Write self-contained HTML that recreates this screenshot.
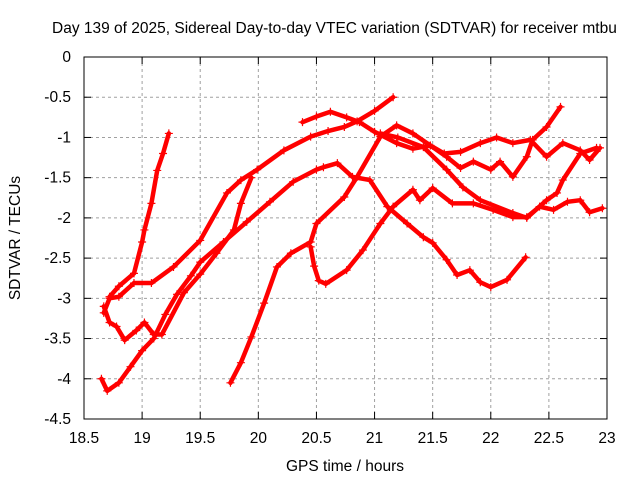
<!DOCTYPE html>
<html><head><meta charset="utf-8"><style>
body{margin:0;background:#fff}
svg text{font-family:"Liberation Sans",sans-serif;font-size:15.5px;fill:#000}
</style></head><body>
<svg id="c" width="640" height="480" xmlns="http://www.w3.org/2000/svg">
<rect width="640" height="480" fill="#fff"/>
<text x="52" y="33">Day 139 of 2025, Sidereal Day-to-day VTEC variation (SDTVAR) for receiver mtbu</text>
<text x="345" y="471" text-anchor="middle">GPS time / hours</text>
<text transform="translate(20,238) rotate(-90)" text-anchor="middle">SDTVAR / TECUs</text>
<g id="grid"></g><g id="ticks"></g><g id="series"></g>
<rect x="84" y="57" width="523" height="362" fill="none" stroke="#000" stroke-width="1"/>
</svg>
<script>
const xTicks=[18.5,19,19.5,20,20.5,21,21.5,22,22.5,23];
const yTicks=[0,-0.5,-1,-1.5,-2,-2.5,-3,-3.5,-4,-4.5];
const seriesA=[[18.72,-2.98],[18.8,-2.85],[18.93,-2.69],[19.0,-2.3],[19.02,-2.15],[19.08,-1.82],[19.13,-1.41],[19.18,-1.2],[19.23,-0.95]];
const seriesB=[[18.67,-3.18],[18.72,-3.0],[18.8,-2.98],[18.93,-2.81],[19.08,-2.81],[19.27,-2.61],[19.5,-2.28],[19.73,-1.69],[19.85,-1.53],[19.99,-1.4],[20.22,-1.16],[20.45,-0.99],[20.6,-0.92],[20.74,-0.87],[20.85,-0.8],[21.0,-0.67],[21.16,-0.5]];
const seriesC=[[18.67,-3.1],[18.72,-3.3],[18.78,-3.35],[18.85,-3.52],[18.95,-3.4],[19.02,-3.3],[19.1,-3.45],[19.17,-3.45],[19.36,-2.93],[19.5,-2.7],[19.64,-2.44],[19.79,-2.15],[19.85,-1.82],[19.94,-1.5]];
const seriesD=[[18.65,-4.0],[18.7,-4.15],[18.8,-4.05],[18.9,-3.85],[19.0,-3.65],[19.1,-3.5],[19.2,-3.2],[19.3,-2.95],[19.42,-2.72],[19.5,-2.55],[19.7,-2.3],[19.9,-2.05],[20.1,-1.8],[20.3,-1.55],[20.5,-1.4],[20.56,-1.37],[20.68,-1.32],[20.81,-1.49],[20.96,-1.53],[21.11,-1.86],[21.28,-2.07],[21.42,-2.24],[21.5,-2.31],[21.62,-2.52],[21.71,-2.71],[21.82,-2.65],[21.91,-2.8],[22.0,-2.86],[22.14,-2.77],[22.3,-2.49]];
const seriesE=[[19.76,-4.05],[19.85,-3.8],[19.94,-3.48],[20.05,-3.06],[20.16,-2.61],[20.28,-2.44],[20.45,-2.3],[20.5,-2.07],[20.74,-1.74],[20.85,-1.49],[21.05,-0.99],[21.19,-0.85],[21.33,-0.95],[21.48,-1.1],[21.62,-1.24],[21.74,-1.38],[21.85,-1.3],[22.0,-1.4],[22.08,-1.3],[22.19,-1.49],[22.31,-1.24],[22.36,-1.03],[22.48,-0.87],[22.6,-0.62]];
const seriesF=[[20.45,-2.36],[20.48,-2.6],[20.52,-2.78],[20.58,-2.82],[20.76,-2.65],[20.9,-2.4],[21.05,-2.07],[21.16,-1.86],[21.33,-1.65],[21.39,-1.78],[21.5,-1.63],[21.67,-1.82],[21.85,-1.82],[22.02,-1.9],[22.19,-1.99],[22.31,-1.99],[22.42,-1.86],[22.54,-1.9],[22.66,-1.8],[22.77,-1.78],[22.85,-1.93],[22.96,-1.88]];
const seriesG=[[20.38,-0.81],[20.5,-0.74],[20.62,-0.68],[20.76,-0.75],[20.87,-0.81],[21.0,-0.93],[21.19,-1.07],[21.33,-1.14],[21.48,-1.1],[21.6,-1.2],[21.74,-1.18],[21.91,-1.07],[22.05,-1.0],[22.19,-1.07],[22.34,-1.03],[22.48,-1.24],[22.62,-1.07],[22.77,-1.16],[22.85,-1.28],[22.94,-1.13]];
const seriesH=[[21.05,-0.95],[21.2,-1.0],[21.42,-1.12],[21.62,-1.4],[21.76,-1.62],[21.91,-1.78],[22.19,-1.94],[22.31,-2.0],[22.48,-1.78],[22.57,-1.69],[22.62,-1.53],[22.77,-1.2],[22.91,-1.13]];
const allSeries=[seriesA,seriesB,seriesC,seriesD,seriesE,seriesF,seriesG,seriesH];
const NS="http://www.w3.org/2000/svg";
const X=v=>84+(v-18.5)*(523/4.5);
const Y=v=>57-v*(362/4.5);
function mk(tag,at,parent){const e=document.createElementNS(NS,tag);for(const k in at)e.setAttribute(k,at[k]);parent.appendChild(e);return e;}
const grid=document.getElementById('grid'),ticks=document.getElementById('ticks'),ser=document.getElementById('series');
xTicks.forEach(t=>{const x=X(t);
 if(t>18.5&&t<23){const g=mk('line',{x1:x,x2:x,y1:57,y2:419,stroke:'#a0a0a0','stroke-dasharray':'3,3'},grid);
 
 }
 mk('line',{x1:x,x2:x,y1:419,y2:412,stroke:'#000'},ticks);mk('line',{x1:x,x2:x,y1:57,y2:64,stroke:'#000'},ticks);
 const l=mk('text',{x:x,y:443,'text-anchor':'middle'},ticks);l.textContent=String(t);
 
 });
yTicks.forEach(t=>{const y=Y(t);
 if(t<0&&t>-4.5){const g=mk('line',{x1:84,x2:607,y1:y,y2:y,stroke:'#a0a0a0','stroke-dasharray':'3,3'},grid);
 
 }
 mk('line',{x1:84,x2:91,y1:y,y2:y,stroke:'#000'},ticks);mk('line',{x1:607,x2:600,y1:y,y2:y,stroke:'#000'},ticks);
 const l=mk('text',{x:71,y:y+5,'text-anchor':'end'},ticks);l.textContent=String(t);
 
 });
allSeries.forEach((s,i)=>{
 const g=mk('g',{},ser);
 
 
 mk('polyline',{points:s.map(p=>X(p[0])+','+Y(p[1])).join(' '),fill:'none',stroke:'#f00','stroke-width':4.5,'stroke-linejoin':'round','stroke-linecap':'round'},g);
 s.forEach(p=>{const x=X(p[0]),y=Y(p[1]);
  const m=mk('path',{d:`M${x-4},${y}h8M${x},${y-4}v8`,stroke:'#f00','stroke-width':1.2},g);
  
  });
});
</script>
</body></html>
